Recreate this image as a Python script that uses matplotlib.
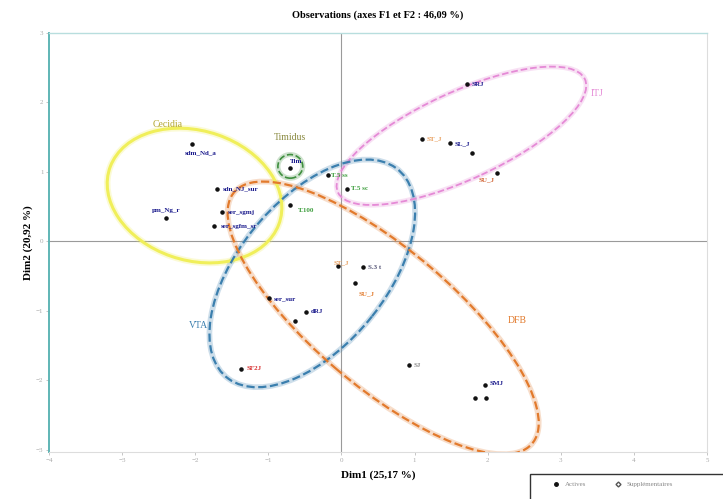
import matplotlib
matplotlib.use("Agg")
import matplotlib.pyplot as plt
from matplotlib.patches import Ellipse, Rectangle
from matplotlib.lines import Line2D

# Observation scores on the first two dimensions
obs_names = ["sdm_Nd_a", "sdn_NJ_sur", "ser_sgmj", "ser_sgfm_sr", "pm_Ng_r",
             "Tim", "T.5 ss", "T.5 sc", "T.100",
             "SRJ", "ST_J", "SL_J", "", "SU_J",
             "S.3 t", "SU_J", "ST_J",
             "ser_sur", "dRJ", "", "SF2J",
             "SJ", "SMJ", "", ""]
obs_f1 = [-2.05, -1.70, -1.64, -1.75, -2.40,
          -0.71, -0.19, 0.08, -0.70,
          1.71, 1.10, 1.48, 1.78, 2.12,
          0.29, 0.18, -0.05,
          -0.99, -0.49, -0.63, -1.37,
          0.92, 1.96, 1.82, 1.97]
obs_f2 = [1.40, 0.76, 0.42, 0.22, 0.33,
          1.05, 0.95, 0.76, 0.52,
          2.26, 1.47, 1.41, 1.27, 0.99,
          -0.37, -0.60, -0.36,
          -0.82, -1.01, -1.14, -1.83,
          -1.78, -2.06, -2.26, -2.26]

# Groups: name, centre (F1, F2), full width / height, rotation
group_names = ["Cecidia", "Timidus", "ITJ", "VTA", "DFB"]
group_cx = [-2.01, -0.70, 1.64, -0.40, 0.57]
group_cy = [0.66, 1.08, 1.52, -0.46, -1.10]
group_w = [2.45, 0.34, 3.75, 3.80, 5.45]
group_h = [1.86, 0.34, 1.25, 2.05, 1.95]
group_angle = [-20, 0, 26, 53, -42]
group_label_x = [-2.38, -0.71, 3.49, -1.95, 2.40]
group_label_y = [1.68, 1.50, 2.13, -1.21, -1.14]

# Styles
group_colors = ["#f0ef5a", "#3f8f3f", "#e58ad6", "#3b7fae", "#e27a2c"]
group_text_colors = ["#b3a630", "#8a8a40", "#e58ad6", "#3b7fae", "#e27a2c"]
group_ls = ["-", "--", "--", "--", "--"]
group_lw = [2.2, 1.2, 1.3, 1.6, 1.6]

label_colors = ["#1a1a8c"] * 5 + ["#1a1a8c", "#3f9f3f", "#3f9f3f", "#3f9f3f"] + \
    ["#1a1a8c", "#e8a060", "#1a1a8c", "#1a1a8c", "#d06030"] + \
    ["#555577", "#e27a2c", "#e8a060"] + \
    ["#1a1a8c", "#1a1a8c", "#888888", "#d83030"] + \
    ["#888888", "#1a1a8c", "#888888", "#888888"]
label_dx = [-0.1, 0.08, 0.08, 0.1, -0.2,
            0.0, 0.05, 0.05, 0.1,
            0.07, 0.07, 0.07, 0.07, -0.25,
            0.07, 0.05, -0.06,
            0.07, 0.07, 0.07, 0.07,
            0.07, 0.07, 0.07, 0.07]
label_dy = [-0.12, 0.0, 0.0, 0.0, 0.12,
            0.1, 0.0, 0.0, -0.08,
            0.0, 0.0, 0.0, 0.0, -0.1,
            0.0, -0.15, 0.05,
            0.0, 0.0, 0.0, 0.0,
            0.0, 0.02, 0.0, 0.0]

plt.rcParams["font.family"] = ["Liberation Serif", "DejaVu Serif"]

fig = plt.figure(figsize=(7.23, 4.99), dpi=100)
ax = fig.add_axes([0.0678, 0.0942, 0.9102, 0.8398])

ax.set_xlim(-4, 5)
ax.set_ylim(-3.03, 3.0)

ax.axhline(0, color="#9a9a9a", lw=0.8, zorder=1)
ax.axvline(0, color="#9a9a9a", lw=0.8, zorder=1)

for i, g in enumerate(group_names):
    # soft halo under each outline
    halo = Ellipse((group_cx[i], group_cy[i]), group_w[i], group_h[i],
                   angle=group_angle[i], fill=False, edgecolor=group_colors[i],
                   lw=group_lw[i] + 2.5, alpha=0.25, zorder=2)
    ax.add_patch(halo)
    e = Ellipse((group_cx[i], group_cy[i]), group_w[i], group_h[i],
                angle=group_angle[i], fill=False, edgecolor=group_colors[i],
                lw=group_lw[i], ls=group_ls[i], zorder=3)
    ax.add_patch(e)
    ax.text(group_label_x[i], group_label_y[i], g, color=group_text_colors[i],
            fontsize=7, ha="center", va="center", zorder=5)

ax.scatter(obs_f1, obs_f2, s=5, color="#111111", zorder=6)
for i, n in enumerate(obs_names):
    if not n:
        continue
    ax.text(obs_f1[i] + label_dx[i], obs_f2[i] + label_dy[i], n,
            color=label_colors[i], fontsize=5, ha="left", va="center",
            fontweight="bold", zorder=6)

ax.set_xticks(range(-4, 6))
ax.set_yticks(range(-3, 4))
ax.tick_params(labelsize=5, colors="#bbbbbb", length=2, width=0.6,
               labelcolor="#aaaaaa", pad=2)

for side in ["right", "bottom"]:
    ax.spines[side].set_color("#dddddd")
    ax.spines[side].set_linewidth(0.8)
ax.spines["left"].set_color("#5fb5b5")
ax.spines["left"].set_linewidth(1.4)
ax.spines["top"].set_color("#b8dede")
ax.spines["top"].set_linewidth(1.0)

ax.set_xlabel("Dim1 (25,17 %)", fontsize=8, fontweight="bold", labelpad=6)
ax.set_ylabel("Dim2 (20,92 %)", fontsize=8, fontweight="bold", labelpad=2)
ax.set_title("Observations (axes F1 et F2 : 46,09 %)", fontsize=7.5,
             fontweight="bold", pad=11)

# Legend frame running off the lower-right corner
fig.patches.append(Rectangle((0.733, -0.2), 0.4, 0.25, transform=fig.transFigure,
                             fill=False, edgecolor="#333333", lw=1.0))
handles = [
    Line2D([], [], marker="o", ls="", color="#111111", markersize=2.5),
    Line2D([], [], marker="D", ls="", markerfacecolor="none",
           markeredgecolor="#555555", markersize=2.5),
]
leg = fig.legend(handles, ["Actives", "Supplémentaires"], ncol=2,
                 loc="center left", bbox_to_anchor=(0.755, 0.030),
                 fontsize=5, frameon=False,
                 handletextpad=0.3, columnspacing=3.5, borderpad=0)
for t in leg.get_texts():
    t.set_color("#888888")

fig.savefig("out.png", dpi=100)
